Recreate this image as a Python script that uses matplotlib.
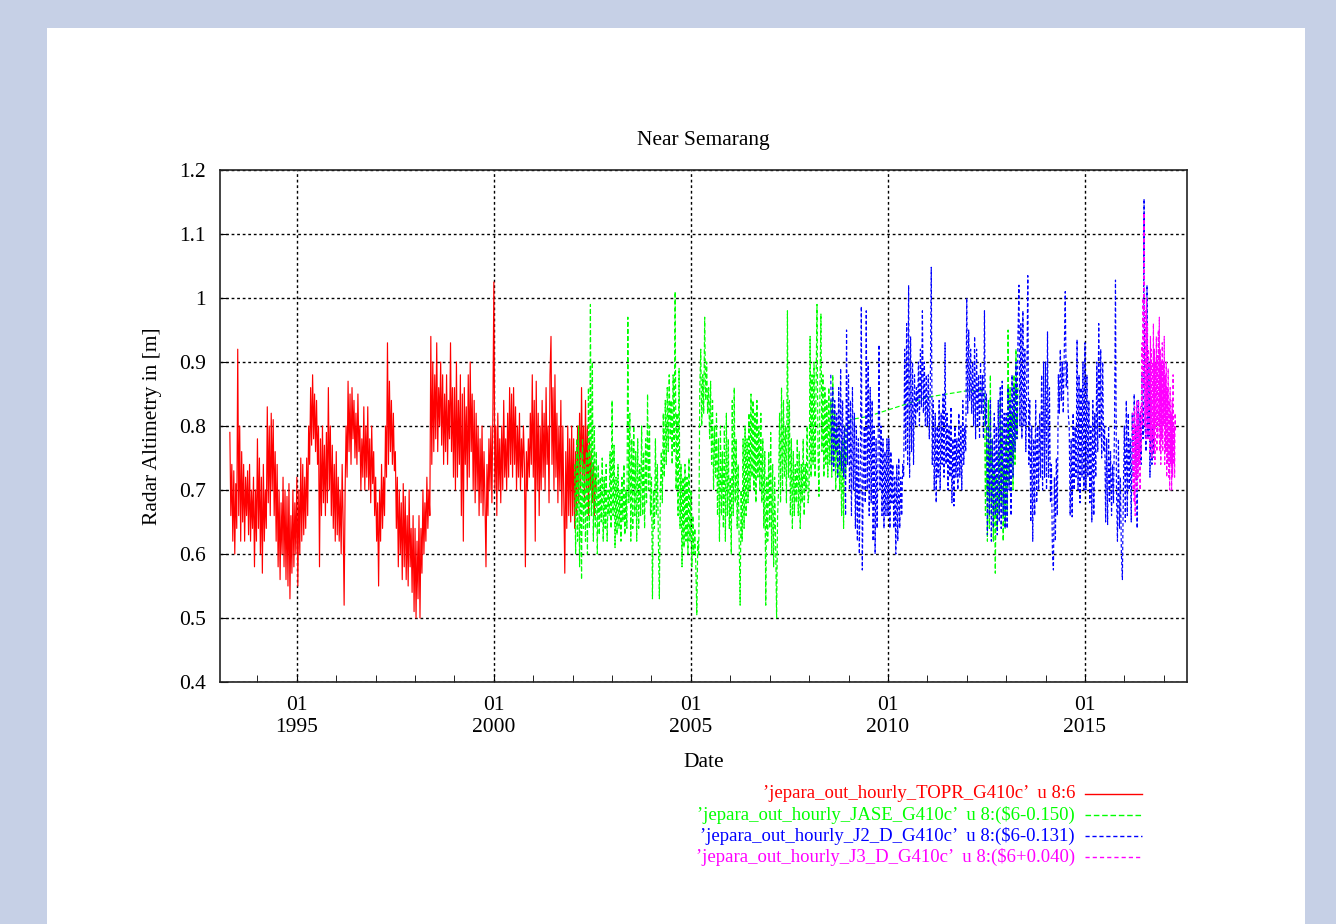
#!/usr/bin/env python3
"""Radar altimetry time series near Semarang (gnuplot style)."""

import numpy as np
import matplotlib.pyplot as plt
from matplotlib.lines import Line2D
from matplotlib.patches import Rectangle

BG_COLOR = '#c6d0e6'
FONT = 'Liberation Serif'
RED = '#ff0000'
GREEN = '#00ff00'
BLUE = '#0000ff'
MAGENTA = '#ff00ff'
FS = 15.5
LEG_FS = 13.5

# TOPEX/Poseidon, one value every 0.025 yr from 1993.300
topr_start, topr_step = 1993.300, 0.025
topr = [
    # 1993.3 - 1993.975
    0.79, 0.66, 0.74, 0.62, 0.73, 0.60, 0.71, 0.64, 0.92, 0.66, 0.80, 0.62, 0.76, 0.65,
    0.74, 0.62, 0.72, 0.66, 0.73, 0.63, 0.74, 0.62, 0.70, 0.64, 0.72, 0.58, 0.70, 0.62,
    # 1994
    0.78, 0.64, 0.75, 0.60, 0.72, 0.57, 0.74, 0.62, 0.70, 0.64,
    0.83, 0.68, 0.80, 0.66, 0.82, 0.70, 0.81, 0.66, 0.76, 0.62,
    0.74, 0.58, 0.70, 0.56, 0.68, 0.60, 0.72, 0.58, 0.70, 0.56,
    0.69, 0.55, 0.71, 0.53, 0.66, 0.57, 0.70, 0.58, 0.68, 0.60,
    # 1995
    0.72, 0.55, 0.70, 0.60, 0.75, 0.62, 0.74, 0.63, 0.72, 0.64,
    0.75, 0.66, 0.80, 0.74, 0.86, 0.77, 0.88, 0.78, 0.85, 0.76,
    0.84, 0.74, 0.80, 0.58, 0.78, 0.66, 0.80, 0.68, 0.77, 0.66,
    0.79, 0.68, 0.86, 0.70, 0.80, 0.66, 0.77, 0.64, 0.74, 0.62,
    # 1996
    0.76, 0.63, 0.72, 0.62, 0.70, 0.60, 0.74, 0.65, 0.52, 0.70,
    0.80, 0.72, 0.87, 0.76, 0.85, 0.74, 0.86, 0.78, 0.84, 0.75,
    0.82, 0.74, 0.85, 0.76, 0.80, 0.70, 0.78, 0.72, 0.83, 0.70,
    0.80, 0.72, 0.83, 0.70, 0.78, 0.68, 0.80, 0.71, 0.76, 0.66,
    # 1997
    0.72, 0.62, 0.68, 0.55, 0.70, 0.62, 0.74, 0.64, 0.72, 0.66,
    0.80, 0.72, 0.93, 0.74, 0.87, 0.76, 0.84, 0.74, 0.82, 0.73,
    0.76, 0.64, 0.72, 0.58, 0.70, 0.60, 0.68, 0.56, 0.71, 0.58,
    0.69, 0.56, 0.66, 0.55, 0.70, 0.58, 0.64, 0.54, 0.66, 0.51,
    # 1998
    0.64, 0.50, 0.62, 0.53, 0.66, 0.50, 0.64, 0.57, 0.70, 0.60,
    0.68, 0.62, 0.72, 0.64, 0.70, 0.66, 0.94, 0.74, 0.90, 0.76,
    0.88, 0.78, 0.93, 0.76, 0.86, 0.80, 0.90, 0.77, 0.88, 0.74,
    0.85, 0.76, 0.88, 0.74, 0.84, 0.78, 0.93, 0.76, 0.86, 0.72,
    # 1999
    0.86, 0.70, 0.90, 0.72, 0.84, 0.74, 0.88, 0.66, 0.85, 0.62,
    0.86, 0.74, 0.83, 0.70, 0.88, 0.72, 0.90, 0.76, 0.85, 0.70,
    0.84, 0.68, 0.82, 0.70, 0.80, 0.66, 0.78, 0.68, 0.80, 0.66,
    0.76, 0.68, 0.58, 0.74, 0.66, 0.78, 0.70, 0.80, 0.68, 0.82,
    # 2000
    1.025, 0.70, 0.80, 0.66, 0.82, 0.70, 0.78, 0.68, 0.80, 0.70,
    0.84, 0.72, 0.78, 0.70, 0.82, 0.72, 0.86, 0.74, 0.85, 0.72,
    0.86, 0.74, 0.83, 0.70, 0.80, 0.72, 0.82, 0.70, 0.78, 0.72,
    0.80, 0.74, 0.58, 0.76, 0.70, 0.78, 0.72, 0.82, 0.74, 0.88,
    # 2001
    0.72, 0.84, 0.62, 0.87, 0.70, 0.82, 0.66, 0.80, 0.70, 0.84,
    0.72, 0.82, 0.70, 0.86, 0.74, 0.80, 0.68, 0.88, 0.94, 0.74,
    0.86, 0.70, 0.88, 0.72, 0.82, 0.68, 0.80, 0.70, 0.84, 0.66,
    0.80, 0.68, 0.57, 0.76, 0.64, 0.80, 0.66, 0.78, 0.65, 0.80,
    # 2002.0 - 2002.6
    0.66, 0.78, 0.64, 0.76, 0.66, 0.80, 0.68, 0.82, 0.70, 0.86,
    0.72, 0.80, 0.68, 0.84, 0.70, 0.80, 0.66, 0.78, 0.70, 0.76,
    0.68, 0.74, 0.66, 0.72, 0.70,
]

# Jason-1, every 0.025 yr from 2002.050
jase_start, jase_step = 2002.050, 0.025
jase = [
    # 2002.05 - 2002.975
    0.74, 0.60, 0.78, 0.62, 0.80, 0.58, 0.76, 0.56, 0.78, 0.64,
    0.74, 0.62, 0.76, 0.60, 0.86, 0.64, 0.99, 0.66, 0.90, 0.62,
    0.80, 0.64, 0.76, 0.60, 0.74, 0.63, 0.72, 0.65, 0.75, 0.62,
    0.72, 0.64, 0.74, 0.62, 0.70, 0.66, 0.76, 0.64,
    # 2003
    0.84, 0.66, 0.77, 0.61, 0.72, 0.63, 0.74, 0.64, 0.70, 0.62,
    0.72, 0.65, 0.74, 0.63, 0.70, 0.64, 0.97, 0.68, 0.82, 0.62,
    0.78, 0.64, 0.80, 0.66, 0.76, 0.62, 0.78, 0.64, 0.74, 0.66,
    0.80, 0.66, 0.76, 0.64, 0.78, 0.68, 0.85, 0.70, 0.80, 0.66,
    # 2004
    0.72, 0.53, 0.70, 0.64, 0.78, 0.66, 0.74, 0.62, 0.53, 0.70,
    0.76, 0.68, 0.82, 0.72, 0.84, 0.74, 0.86, 0.76, 0.88, 0.78,
    0.84, 0.74, 0.88, 0.76, 1.01, 0.70, 0.82, 0.66, 0.89, 0.64,
    0.74, 0.58, 0.72, 0.61, 0.74, 0.62, 0.72, 0.60, 0.75, 0.62,
    # 2005
    0.70, 0.58, 0.66, 0.60, 0.64, 0.58, 0.505, 0.62, 0.60, 0.86,
    0.92, 0.80, 0.88, 0.82, 0.97, 0.84, 0.90, 0.82, 0.86, 0.78,
    0.87, 0.74, 0.84, 0.70, 0.80, 0.72, 0.82, 0.66, 0.78, 0.62,
    0.80, 0.66, 0.76, 0.64, 0.80, 0.62, 0.82, 0.66, 0.78, 0.64,
    # 2006
    0.72, 0.60, 0.84, 0.66, 0.86, 0.68, 0.78, 0.64, 0.74, 0.62,
    0.52, 0.70, 0.62, 0.78, 0.64, 0.80, 0.66, 0.78, 0.68, 0.82,
    0.70, 0.85, 0.72, 0.84, 0.70, 0.82, 0.68, 0.84, 0.72, 0.80,
    0.70, 0.82, 0.68, 0.78, 0.64, 0.76, 0.52, 0.72, 0.62, 0.76,
    # 2007
    0.64, 0.79, 0.60, 0.74, 0.58, 0.72, 0.62, 0.50, 0.66, 0.70,
    0.82, 0.68, 0.86, 0.70, 0.84, 0.72, 0.80, 0.68, 0.98, 0.72,
    0.84, 0.66, 0.78, 0.64, 0.76, 0.66, 0.74, 0.68, 0.78, 0.66,
    0.76, 0.64, 0.74, 0.68, 0.78, 0.66, 0.74, 0.70, 0.80, 0.68,
    # 2008
    0.70, 0.94, 0.72, 0.88, 0.74, 0.90, 0.72, 0.86, 0.99, 0.76,
    0.69, 0.86, 0.975, 0.76, 0.88, 0.72, 0.86, 0.74, 0.84, 0.72,
    0.86, 0.74, 0.84, 0.72, 0.88, 0.74, 0.82, 0.70, 0.80, 0.72,
    0.78, 0.70, 0.76, 0.66, 0.78, 0.64, 0.80, 0.72, 0.76, 0.80,
]
# few Jason-1 passes during the geodetic phase
jase_gap_t = [2009.05, 2009.5, 2010.0, 2010.5, 2011.0, 2011.5, 2012.0, 2012.4]
jase_gap = [0.81, 0.815, 0.825, 0.835, 0.845, 0.85, 0.855, 0.855]
jase_late_start = 2012.45
jase_late = [
    0.85, 0.66, 0.80, 0.62, 0.84, 0.64, 0.88, 0.66, 0.78, 0.62,
    0.74, 0.57, 0.72, 0.64, 0.76, 0.66, 0.84, 0.68, 0.80, 0.62,
    0.74, 0.64, 0.78, 0.66, 0.95, 0.71, 0.86, 0.74, 0.82, 0.70,
    0.88, 0.74, 0.92, 0.78, 0.86,
]

# Jason-2, every 0.025 yr from 2008.550
j2_start, j2_step = 2008.550, 0.025
j2 = [
    # 2008.55 - 2008.975
    0.88, 0.74, 0.86, 0.73, 0.84, 0.76, 0.82, 0.72, 0.86, 0.74,
    0.89, 0.73, 0.84, 0.72, 0.80, 0.66, 0.95, 0.74,
    # 2009
    0.88, 0.70, 0.84, 0.66, 0.86, 0.70, 0.82, 0.64, 0.80, 0.62,
    0.78, 0.60, 0.74, 0.987, 0.575, 0.72, 0.80, 0.68, 0.98, 0.70,
    0.90, 0.66, 0.86, 0.68, 0.84, 0.62, 0.80, 0.60, 0.78, 0.64,
    0.76, 0.927, 0.70, 0.80, 0.66, 0.78, 0.64, 0.76, 0.66, 0.78,
    # 2010
    0.66, 0.78, 0.64, 0.76, 0.68, 0.74, 0.64, 0.72, 0.60, 0.74,
    0.62, 0.75, 0.64, 0.72, 0.66, 0.74, 0.72, 0.92, 0.76, 0.96,
    0.74, 1.02, 0.72, 0.94, 0.76, 0.90, 0.74, 0.88, 0.80, 0.86,
    0.82, 0.90, 0.80, 0.92, 0.83, 0.98, 0.82, 0.90, 0.80, 0.88,
    # 2011
    0.80, 0.88, 0.78, 0.86, 1.048, 0.74, 0.84, 0.70, 0.82, 0.68,
    0.80, 0.72, 0.84, 0.70, 0.82, 0.74, 0.85, 0.72, 0.93, 0.74,
    0.82, 0.70, 0.80, 0.72, 0.83, 0.68, 0.78, 0.675, 0.80, 0.72,
    0.78, 0.70, 0.82, 0.72, 0.80, 0.70, 0.84, 0.74, 0.80, 0.76,
    # 2012
    1.00, 0.82, 0.95, 0.84, 0.92, 0.82, 0.90, 0.80, 0.94, 0.78,
    0.92, 0.80, 0.88, 0.78, 0.90, 0.82, 0.88, 0.78, 0.98, 0.80,
    0.85, 0.63, 0.80, 0.66, 0.84, 0.62, 0.78, 0.64, 0.82, 0.66,
    0.80, 0.63, 0.84, 0.65, 0.86, 0.64, 0.87, 0.66, 0.82, 0.64,
    # 2013
    0.82, 0.64, 0.86, 0.70, 0.84, 0.66, 0.88, 0.72, 0.86, 0.76,
    0.90, 0.78, 0.94, 1.02, 0.80, 0.96, 0.78, 0.98, 0.80, 0.92,
    0.76, 0.88, 1.035, 0.74, 0.84, 0.65, 0.80, 0.62, 0.78, 0.66,
    0.84, 0.68, 0.80, 0.70, 0.82, 0.72, 0.88, 0.70, 0.90, 0.72,
    # 2014
    0.90, 0.70, 0.947, 0.72, 0.86, 0.68, 0.74, 0.60, 0.575, 0.72,
    0.62, 0.75, 0.66, 0.88, 0.82, 0.92, 0.84, 0.90, 0.82, 0.92,
    1.01, 0.86, 0.90, 0.82, 0.80, 0.66, 0.78, 0.658, 0.82, 0.70,
    0.80, 0.72, 0.935, 0.70, 0.88, 0.68, 0.86, 0.72, 0.90, 0.70,
    # 2015
    0.93, 0.70, 0.88, 0.72, 0.84, 0.68, 0.80, 0.65, 0.84, 0.66,
    0.82, 0.72, 0.90, 0.76, 0.96, 0.78, 0.92, 0.75, 0.90, 0.76,
    0.80, 0.65, 0.78, 0.646, 0.80, 0.68, 0.76, 0.66, 0.74, 0.68,
    0.80, 1.028, 0.70, 0.62, 0.78, 0.64, 0.72, 0.60, 0.56, 0.70,
    # 2016.0 - 2016.75
    0.80, 0.65, 0.84, 0.66, 0.82, 0.70, 0.78, 0.65, 0.82, 0.72,
    0.85, 0.74, 0.80, 0.64, 0.84, 0.76, 0.82, 0.74, 0.88, 0.78,
    1.155, 0.80, 0.76, 1.02, 0.78, 0.90, 0.72, 0.84, 0.74, 0.80,
    0.75,
]

# Jason-3, every 0.0125 yr from 2016.2000
j3_start, j3_step = 2016.2000, 0.0125
j3 = [
    0.74, 0.82, 0.70, 0.80, 0.68, 0.83, 0.66, 0.80, 0.72, 0.84,
    0.70, 0.82, 0.72, 0.84, 0.74, 0.80, 0.70, 0.83, 0.76, 0.86,
    0.93, 0.80, 1.00, 0.86, 1.133, 0.90, 0.80, 0.98, 0.78, 1.00,
    0.82, 0.96, 0.78, 0.92, 0.80, 0.90, 0.76, 0.94, 0.78, 0.92,
    0.75, 0.90, 0.78, 0.96, 0.76, 0.92, 0.74, 0.90, 0.80, 0.94,
    0.76, 0.91, 0.78, 0.95, 0.80, 0.97, 0.76, 0.92, 0.74, 0.90,
    0.78, 0.93, 0.76, 0.90, 0.80, 0.94, 0.74, 0.88, 0.76, 0.90,
    0.72, 0.86, 0.74, 0.89, 0.72, 0.84, 0.70, 0.86, 0.74, 0.82,
    0.70, 0.84, 0.72, 0.88, 0.74, 0.80, 0.72, 0.82, 0.79,
]

labels = [
    "\u2019jepara_out_hourly_TOPR_G410c\u2019  u 8:6",
    "\u2019jepara_out_hourly_JASE_G410c\u2019  u 8:(\\$6-0.150)",
    "\u2019jepara_out_hourly_J2_D_G410c\u2019  u 8:(\\$6-0.131)",
    "\u2019jepara_out_hourly_J3_D_G410c\u2019  u 8:(\\$6+0.040)",
]
colors = [RED, GREEN, BLUE, MAGENTA]
styles = ['-', (0, (4, 2)), (0, (3, 2)), (0, (3, 2.2))]

year_ticks = [1995, 2000, 2005, 2010, 2015]
y_ticks = [0.4, 0.5, 0.6, 0.7, 0.8, 0.9, 1.0, 1.1, 1.2]


def regular(start, step, vals):
    return start + step * np.arange(len(vals))


def main():
    plt.rcParams['font.family'] = [FONT, 'DejaVu Serif']
    fig = plt.figure(figsize=(13.36, 9.24), dpi=100)
    fig.patch.set_facecolor(BG_COLOR)
    fig.patches.append(Rectangle((47 / 1336, 0), (1305 - 47) / 1336, 1 - 28 / 924,
                                 transform=fig.transFigure, facecolor='white',
                                 edgecolor='none', zorder=-5))

    ax = fig.add_axes([220 / 1336, 1 - 682 / 924, (1187 - 220) / 1336, (682 - 170) / 924])
    ax.set_zorder(2)

    t_topr = regular(topr_start, topr_step, topr)
    t_jase = np.concatenate([regular(jase_start, jase_step, jase), jase_gap_t,
                             regular(jase_late_start, jase_step, jase_late)])
    v_jase = jase + jase_gap + jase_late
    t_j2 = regular(j2_start, j2_step, j2)
    t_j3 = regular(j3_start, j3_step, j3)

    series = [(t_topr, topr), (t_jase, v_jase), (t_j2, j2), (t_j3, j3)]
    for (t, v), c, ls in zip(series, colors, styles):
        ax.plot(t, v, color=c, linestyle=ls, linewidth=0.85, zorder=3)

    ax.set_xlim(1993.05, 2017.59)
    ax.set_ylim(0.4, 1.2)
    ax.set_xticks(year_ticks)
    ax.set_xticklabels([f'01\n{y}' for y in year_ticks])
    ax.set_xticks(np.arange(1994, 2018), minor=True)
    ax.set_yticks(y_ticks)
    ax.set_yticklabels([f'{v:g}' for v in y_ticks])
    ax.grid(True, which='major', color='black', linestyle=(0, (2, 2)), linewidth=1.0)
    ax.tick_params(axis='both', which='major', direction='in', length=6,
                   labelsize=FS, pad=10, top=False, right=False)
    ax.tick_params(axis='x', which='minor', direction='in', length=5, top=False)
    for s in ax.spines.values():
        s.set_linewidth(1.2)
        s.set_color('#222222')

    ax.set_title('Near Semarang', fontsize=FS, pad=18)
    ax.set_xlabel('Date', fontsize=FS, labelpad=12)
    ax.set_ylabel('Radar Altimetry in [m]', fontsize=FS, labelpad=12)

    # legend, gnuplot style: right-justified text with sample to the right
    rows_y = [794, 815, 836, 857]
    for lab, c, ls, yp in zip(labels, colors, styles, rows_y):
        fy = 1 - yp / 924
        fig.text(1075 / 1336, fy, lab, color=c, fontsize=LEG_FS, ha='right', va='center')
        fig.add_artist(Line2D([1085 / 1336, 1142 / 1336], [fy, fy], color=c,
                              linestyle=ls, linewidth=1.0, transform=fig.transFigure))

    fig.savefig('out.png', dpi=100, facecolor=BG_COLOR)
    plt.close(fig)


if __name__ == '__main__':
    main()
